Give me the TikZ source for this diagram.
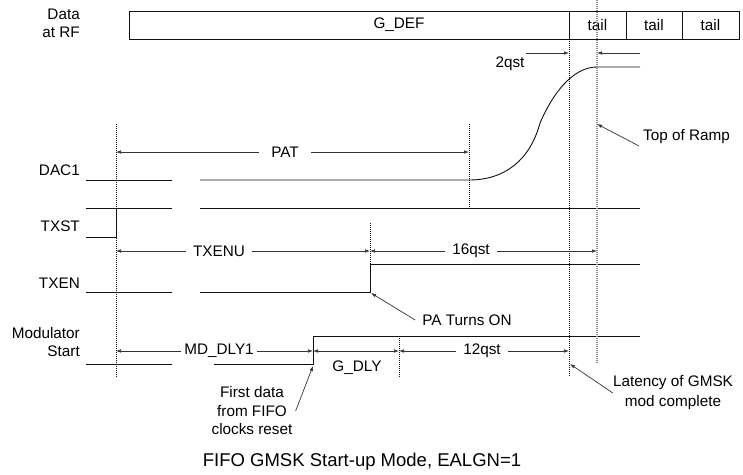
\documentclass[tikz,border=0pt]{standalone}
\usepackage{fontspec}
\setmainfont{Liberation Sans}
\usetikzlibrary{arrows.meta}
\newcommand{\Unit}{1pt}
\newcommand{\Wire}{0.9pt}
\newcommand{\Dim}{0.7pt}
\newcommand{\Gap}{172}
\definecolor{ink}{HTML}{101010}
\definecolor{mist}{HTML}{8A8A8A}

\tikzset{
  wire/.style={ink,line width=\Wire},
  guide/.style={ink,line width=0.6pt,dash pattern=on 1pt off 1pt},
  guidegray/.style={mist,line width=1.1pt,dash pattern=on 1pt off 1pt},
  dim/.style={ink!85,line width=\Dim,-{Latex[length=5pt,width=3.6pt]}},
  dimboth/.style={dim,{Latex[length=5pt,width=3.6pt]}-{Latex[length=5pt,width=3.6pt]}},
  lbl/.style={font=\fontsize{15.3}{18.5}\selectfont,inner sep=0pt},
  dimlbl/.style={lbl,inner xsep=7pt},
}

\begin{document}
\begin{tikzpicture}[x=\Unit,y=-\Unit, line join=round]
  \useasboundingbox (0,0) rectangle (743,474);

  % ---- data at RF ---------------------------------------------------------
  \node[lbl,anchor=east,align=right] (datarf) at (80,23.5) {Data\\at RF};
  \draw[wire] (129,11) rectangle (739,39);
  \foreach \x in {569,626,682} {
    \draw[wire] (\x,11) -- (\x,39);
  }
  \node[lbl] (gdef) at (399,25) {G\_DEF};
  \foreach \a/\b [count=\i] in {569/626,626/682,682/739} {
    \node[lbl] (tail\i) at ({(\a+\b)/2},25) {tail};
  }

  % ---- signal names -------------------------------------------------------
  \node[lbl,anchor=east] (dac1) at (80,170) {DAC1};
  \node[lbl,anchor=east] (txst) at (80,226) {TXST};
  \node[lbl,anchor=east] (txen) at (80,283) {TXEN};
  \node[lbl,anchor=east,align=right] (modst) at (80,342) {Modulator\\Start};

  % ---- waveforms, broken after x = \Gap -----------------------------------
  \foreach \y in {180,208,292,364} {
    \draw[wire] (86,\y) -- (\Gap,\y);
  }
  \draw[wire] (200,180) -- (469,180)
    .. controls (505,180) and (530,160) .. (540,123)
    .. controls (552,95) and (572,67) .. (597,67) -- (640,67);
  \draw[wire] (86,237) -- (116,237) -- (116,208);
  \draw[wire] (200,208) -- (640,208);
  \draw[wire] (200,292) -- (370,292) -- (370,264) -- (640,264);
  \draw[wire] (214,364) -- (313,364) -- (313,336) -- (640,336);

  % ---- guides -------------------------------------------------------------
  \draw[guide] (116,124) -- (116,377);
  \draw[guide] (469,124) -- (469,208);
  \draw[guide] (370,223) -- (370,264);
  \draw[guide] (399,336) -- (399,377);
  \draw[guide] (569,39) -- (569,377);
  \draw[guidegray] (597,0) -- (597,363);

  % ---- spans --------------------------------------------------------------
  \node[dimlbl,inner xsep=12pt] (pat) at (285,152) {PAT};
  \draw[dim] (pat) -- (116,152);
  \draw[dim] (pat) -- (469,152);

  \node[dimlbl] (txenu) at (219,251) {TXENU};
  \draw[dim] (txenu) -- (116,251);
  \draw[dim] (txenu) -- (370,251);

  \node[dimlbl] (sixteen) at (471,251) {16qst};
  \draw[dim] (sixteen) -- (370,251);
  \draw[dim] (sixteen) -- (597,251);

  \node[dimlbl,inner xsep=3pt] (mddly) at (219,351) {MD\_DLY1};
  \draw[dim] (mddly) -- (116,351);
  \draw[dim] (mddly) -- (313,351);

  \coordinate (gdlyl) at (313,351);
  \coordinate (gdlyr) at (399,351);
  \draw[dimboth] (gdlyl) -- (gdlyr);
  \node[lbl] (gdly) at (357,368) {G\_DLY};

  \node[dimlbl] (twelve) at (482,351) {12qst};
  \draw[dim] (twelve) -- (399,351);
  \draw[dim] (twelve) -- (569,351);

  % the 2qst span is marked from outside, both arrows pointing in
  \coordinate (twoa) at (526,53);
  \coordinate (twob) at (640,53);
  \draw[dim] (twoa) -- (569,53);
  \draw[dim] (twob) -- (597,53);
  \node[lbl] (twoqst) at (510,64) {2qst};

  % ---- call-outs ----------------------------------------------------------
  \node[lbl,anchor=west] (topramp) at (643,137) {Top of Ramp};
  \coordinate (ramptop) at (597,124);
  \draw[dim] ([xshift=-4pt,yshift=-9pt]topramp.west) -- (ramptop);

  \node[lbl] (paon) at (467,320) {PA Turns ON};
  \draw[dim] ([xshift=-7pt]paon.west) -- (371,293);

  \node[lbl,align=center,font=\fontsize{15.3}{20}\selectfont] (latency) at (673,393)
    {Latency of GMSK\\mod complete};
  \draw[dim] (latency.west) -- (570,364);

  \node[lbl,align=center] (firstdata) at (252,411) {First data\\from FIFO\\clocks reset};
  \draw[dim] ([xshift=3pt]firstdata.east) -- (313,366);

  % ---- caption ------------------------------------------------------------
  \node[lbl,font=\fontsize{18.5}{22}\selectfont] (caption) at (362,462)
    {FIFO GMSK Start-up Mode, EALGN=1};

\end{tikzpicture}
\end{document}
